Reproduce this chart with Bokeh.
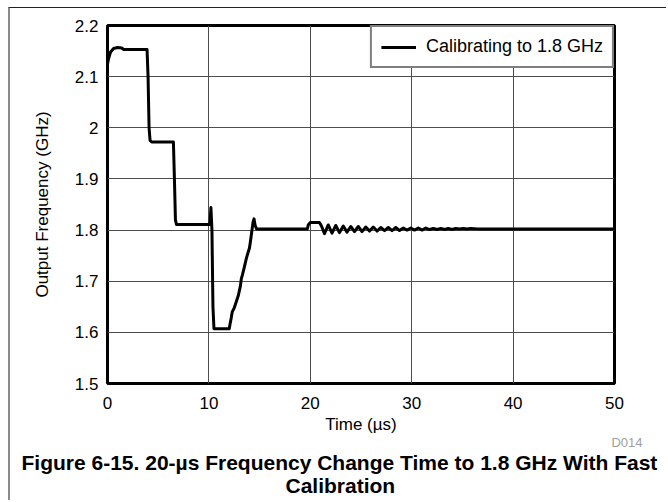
from bokeh.plotting import figure
from bokeh.models import FixedTicker, NumeralTickFormatter, Title
from bokeh.embed import file_html
from bokeh.resources import INLINE

# ---------------- data ----------------
time_us = [
    0.0, 0.1, 0.3, 0.6, 1.0, 1.4, 1.6, 2.5, 3.9,
    4.0, 4.1, 4.2, 4.4, 6.5,
    6.6, 6.7, 6.8, 10.1,
    10.2, 10.3, 10.4, 10.5, 12.0,
    12.2, 12.3, 12.5, 12.7, 12.9, 13.1, 13.2, 13.3, 13.5, 13.7, 13.8, 14.0, 14.1,
    14.25, 14.35, 14.45, 14.55, 14.7, 19.7,
    19.8, 20.0, 20.9, 21.1,
    21.40, 21.77, 22.14, 22.51, 22.88, 23.25, 23.62, 23.99, 24.36, 24.73,
    25.10, 25.47, 25.84, 26.21, 26.58, 26.95, 27.32, 27.69, 28.06, 28.43,
    28.80, 29.17, 29.54, 29.91, 30.28, 30.65, 31.02, 31.39, 31.76, 32.13,
    32.50, 32.87, 33.24, 33.61, 33.98, 34.35, 34.72, 35.09, 35.46, 35.83,
    36.5, 50.0,
]
freq_ghz = [
    2.125, 2.135, 2.148, 2.155, 2.157, 2.156, 2.153, 2.153, 2.153,
    2.100, 2.000, 1.975, 1.972, 1.972,
    1.900, 1.820, 1.811, 1.811,
    1.844, 1.800, 1.650, 1.607, 1.607,
    1.628, 1.640, 1.648, 1.660, 1.672, 1.690, 1.705, 1.712, 1.728, 1.745, 1.752, 1.765, 1.778,
    1.800, 1.815, 1.822, 1.810, 1.802, 1.802,
    1.810, 1.815, 1.815, 1.808,
    1.793, 1.810, 1.794, 1.809, 1.795, 1.808, 1.796, 1.807, 1.797, 1.807,
    1.797, 1.806, 1.798, 1.806, 1.798, 1.805, 1.799, 1.805, 1.799, 1.805,
    1.799, 1.804, 1.800, 1.804, 1.800, 1.804, 1.800, 1.804, 1.801, 1.803,
    1.801, 1.803, 1.801, 1.803, 1.801, 1.803, 1.802, 1.803, 1.802, 1.803,
    1.802, 1.802,
]
series_name = "Calibrating to 1.8 GHz"
x_ticks = [0, 10, 20, 30, 40, 50]
y_ticks = [1.5, 1.6, 1.7, 1.8, 1.9, 2.0, 2.1, 2.2]
x_title = "Time (µs)"
y_title = "Output Frequency (GHz)"
caption_line1 = "Figure 6-15. 20-µs Frequency Change Time to 1.8 GHz With Fast"
caption_line2 = "Calibration"
doc_id = "D014"

FONT = "Liberation Sans"

p = figure(
    width=658, height=493,
    x_range=(0, 50), y_range=(1.5, 2.2),
    output_backend="svg", toolbar_location=None,
    min_border_left=97, min_border_right=54,
    min_border_top=17, min_border_bottom=118,
    background_fill_color="white", border_fill_color="white",
)
p.margin = (7, 0, 0, 8)
p.styles = {"border-top": "1px solid #222222", "border-left": "2px solid #8a8a8a"}

p.line(time_us, freq_ghz, line_color="black", line_width=3, line_join="round",
       legend_label=series_name)

# grid
p.xgrid.ticker = FixedTicker(ticks=x_ticks)
p.ygrid.ticker = FixedTicker(ticks=y_ticks)
for g in (p.xgrid, p.ygrid):
    g.grid_line_color = "#4d4d4d"
    g.grid_line_width = 1

# outline
p.outline_line_color = "black"
p.outline_line_width = 3

# axes
p.xaxis.ticker = FixedTicker(ticks=x_ticks)
p.yaxis.ticker = FixedTicker(ticks=y_ticks)
p.yaxis.formatter = NumeralTickFormatter(format="0.[0]")
for ax in (p.xaxis, p.yaxis):
    ax.axis_line_color = None
    ax.major_tick_line_color = None
    ax.minor_tick_line_color = None
    ax.major_tick_out = 0
    ax.major_tick_in = 0
    ax.major_label_text_font = FONT
    ax.major_label_text_font_size = "17px"
    ax.major_label_text_color = "black"
    ax.axis_label_text_font = FONT
    ax.axis_label_text_font_size = "17px"
    ax.axis_label_text_font_style = "normal"
    ax.axis_label_text_color = "black"
p.xaxis.axis_label = x_title
p.yaxis.axis_label = y_title
p.xaxis.major_label_standoff = 13
p.xaxis.axis_label_standoff = 3
p.yaxis.major_label_standoff = 9
p.yaxis.axis_label_standoff = 20

# legend
lg = p.legend[0]
lg.location = "top_right"
lg.margin = 0
lg.padding = 9
lg.spacing = 0
lg.border_line_color = "black"
lg.border_line_width = 2.5
lg.background_fill_color = "white"
lg.background_fill_alpha = 1
lg.glyph_width = 35
lg.label_standoff = 10
lg.label_text_font = FONT
lg.label_text_font_size = "18px"
lg.label_text_color = "black"

# doc id and caption below the axis
p.add_layout(Title(text=doc_id, align="right", offset=-28, standoff=-4,
                   vertical_align="top",
                   text_font=FONT, text_font_size="13px", text_font_style="normal",
                   text_color="#a0a0a0"), "below")
p.add_layout(Title(text=caption_line1, align="left", offset=-86, standoff=-2,
                   text_font=FONT, text_font_size="21px", text_font_style="bold",
                   text_color="black"), "below")
p.add_layout(Title(text=caption_line2, align="left", offset=178, standoff=-2,
                   text_font=FONT, text_font_size="21px", text_font_style="bold",
                   text_color="black"), "below")

open("out.html", "w").write(file_html(p, INLINE))
